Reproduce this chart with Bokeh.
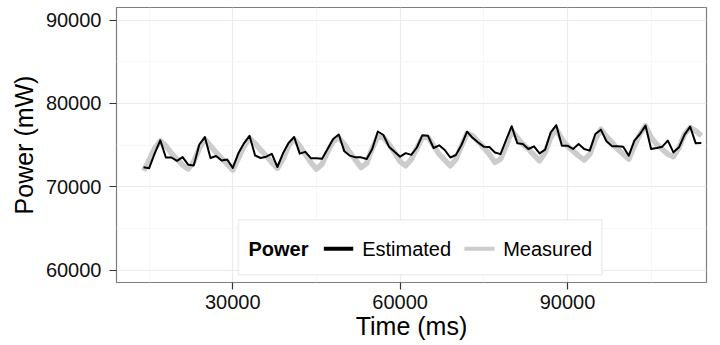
from bokeh.plotting import figure
from bokeh.models import Range1d, FixedTicker, BoxAnnotation, Label, NumeralTickFormatter
from bokeh.embed import file_html
from bokeh.resources import INLINE

time_ms = [14000, 15000, 16000, 17000, 18000, 19000, 20000, 21000, 22000, 23000,
           24000, 25000, 26000, 27000, 28000, 29000, 30000, 31000, 32000, 33000,
           34000, 35000, 36000, 37000, 38000, 39000, 40000, 41000, 42000, 43000,
           44000, 45000, 46000, 47000, 48000, 49000, 50000, 51000, 52000, 53000,
           54000, 55000, 56000, 57000, 58000, 59000, 60000, 61000, 62000, 63000,
           64000, 65000, 66000, 67000, 68000, 69000, 70000, 71000, 72000, 73000,
           74000, 75000, 76000, 77000, 78000, 79000, 80000, 81000, 82000, 83000,
           84000, 85000, 86000, 87000, 88000, 89000, 90000, 91000, 92000, 93000,
           94000, 95000, 96000, 97000, 98000, 99000, 100000, 101000, 102000, 103000,
           104000, 105000, 106000, 107000, 108000, 109000, 110000, 111000, 112000, 113000,
           114000]

estimated = [72340, 72220, 74000, 75560, 73500, 73500, 73100, 73540, 72640, 72540,
             75060, 75940, 73440, 73680, 73140, 73260, 72260, 74000, 75200, 76100,
             73740, 73440, 73600, 73940, 72360, 74000, 75240, 75960, 73960, 74180,
             73420, 73400, 73340, 74520, 75720, 76260, 74240, 73720, 73520, 73520,
             73320, 74520, 76620, 76200, 74800, 74200, 73600, 74020, 73820, 74700,
             76180, 76100, 74640, 74960, 74400, 73500, 73800, 75000, 76600, 75860,
             75300, 74800, 74760, 74100, 73900, 75600, 77260, 75220, 75120, 74520,
             74840, 74000, 74440, 76520, 77380, 74920, 74920, 74520, 75120, 74520,
             74320, 76320, 76840, 75440, 74840, 74840, 74800, 73720, 75520, 76320,
             77320, 74520, 74640, 74800, 75520, 74120, 74720, 76240, 77200, 75200,
             75240]

measured = [71900, 73200, 74600, 75500, 74900, 74000, 73300, 72600, 72100, 73000,
            74600, 75700, 74900, 74100, 73400, 72700, 72000, 73400, 74800, 75800,
            75200, 74400, 73700, 72900, 72200, 73300, 74900, 75700, 74900, 73900,
            72900, 72100, 72700, 74200, 75400, 75900, 75100, 74100, 73200, 72300,
            72800, 74600, 76000, 75900, 75100, 74100, 73000, 72500, 73300, 74600,
            75900, 75900, 74900, 73900, 73200, 72500, 73300, 74900, 76400, 76100,
            75400, 74700, 73900, 72900, 73300, 74900, 76700, 75900, 75100, 74500,
            73800, 73100, 74100, 75900, 76900, 75700, 74900, 74300, 73700, 73200,
            73900, 75700, 76900, 76000, 75300, 74500, 73900, 73300, 74900, 76300,
            77300, 75900, 75100, 74500, 73900, 73600, 74700, 76300, 77100, 76700,
            76100]

x_ticks = [30000, 60000, 90000]
x_minor = [15000, 45000, 75000, 105000]
y_ticks = [60000, 70000, 80000, 90000]
y_minor = [65000, 75000, 85000]

FONT = "Liberation Sans"

p = figure(width=720, height=345,
           x_range=Range1d(9150, 114930), y_range=Range1d(58500, 91500),
           output_backend="svg", toolbar_location=None,
           min_border_left=116, min_border_right=14,
           min_border_top=7, min_border_bottom=63,
           x_axis_label="Time (ms)", y_axis_label="Power (mW)")
p.background_fill_color = "white"
p.border_fill_color = "white"
p.outline_line_color = "#7f7f7f"
p.outline_line_width = 1.2

p.xaxis.ticker = FixedTicker(ticks=x_ticks, minor_ticks=x_minor)
p.yaxis.ticker = FixedTicker(ticks=y_ticks, minor_ticks=y_minor)
for ax in (p.xaxis, p.yaxis):
    ax.formatter = NumeralTickFormatter(format="0")
    ax.axis_line_color = None
    ax.minor_tick_line_color = None
    ax.major_tick_in = 0
    ax.major_tick_out = 7
    ax.major_tick_line_color = "#333333"
    ax.major_tick_line_width = 1.2
    ax.major_label_text_font = FONT
    ax.major_label_text_font_size = "20px"
    ax.major_label_text_color = "#111111"
    ax.axis_label_text_font = FONT
    ax.axis_label_text_font_size = "25px"
    ax.axis_label_text_font_style = "normal"
    ax.axis_label_text_color = "#000000"
p.yaxis.major_label_standoff = 8
p.yaxis.axis_label_standoff = 5
p.xaxis.major_label_standoff = 5
p.xaxis.axis_label_standoff = 0

for g in (p.xgrid, p.ygrid):
    g.grid_line_color = "#ebebeb"
    g.grid_line_width = 1.2
    g.minor_grid_line_color = "#f7f7f7"
    g.minor_grid_line_width = 1.0

p.line(time_ms, measured, line_color="#cccccc", line_width=5.5,
       line_join="round")
p.line(time_ms, estimated, line_color="black", line_width=2,
       line_join="round")

# legend (ggplot style, horizontal, title on the left)
p.add_layout(BoxAnnotation(left=31020, right=96180, top=66040, bottom=59440,
                           fill_color="white", fill_alpha=1.0,
                           line_color="#c8c8c8", line_width=1.5))
p.add_layout(BoxAnnotation(left=46320, right=51590, top=62800, bottom=62320,
                           fill_color="black", fill_alpha=1.0, line_color=None))
p.add_layout(BoxAnnotation(left=71540, right=76920, top=62800, bottom=62320,
                           fill_color="#cccccc", fill_alpha=1.0, line_color=None))
legend_font = dict(text_font=FONT, text_font_size="20px", text_baseline="middle",
                   text_align="left", text_color="black")
p.add_layout(Label(x=32810, y=62560, text="Power", text_font_style="bold", **legend_font))
p.add_layout(Label(x=53200, y=62560, text="Estimated", **legend_font))
p.add_layout(Label(x=78480, y=62560, text="Measured", **legend_font))

open("out.html", "w").write(file_html(p, INLINE))
